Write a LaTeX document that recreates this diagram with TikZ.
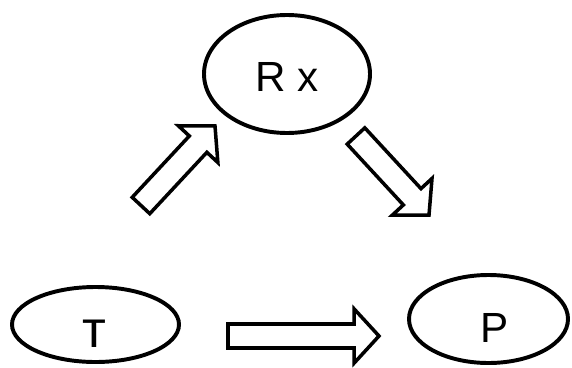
\documentclass[tikz,border=0pt]{standalone}
\usepackage{fontspec}
\setmainfont{Liberation Sans}
\usetikzlibrary{shapes.geometric, calc}

\newcommand{\blockarrow}[2]{%
	\coordinate (neck) at ($(#2)!0.62cm!(#1)$);
	\draw [block] ($(#1)!0.3cm!90:(#2)$) -- ($(neck)!0.3cm!90:(#2)$) -- ($(neck)!0.675cm!90:(#2)$) -- (#2) -- ($(neck)!0.675cm!-90:(#2)$) -- ($(neck)!0.3cm!-90:(#2)$) -- ($(#1)!0.3cm!-90:(#2)$) -- cycle;
}

\begin{document}
\begin{tikzpicture}[
		oval/.style={draw, ellipse, line width=2.8pt, inner sep=0pt, outer sep=0pt},
		lbl/.style={anchor=base, inner sep=0pt, font=\fontsize{30}{36}\selectfont},
		block/.style={line width=2.5pt, line join=miter},
	]
		\useasboundingbox (0, 0) rectangle (14.3, 9.175);

		\node [oval, minimum width=4.15cm, minimum height=2.95cm] (rx) at (7.175, 7.325) {};
		\node [oval, minimum width=4.175cm, minimum height=1.875cm] (t) at (2.3875, 1.0625) {};
		\node [oval, minimum width=3.975cm, minimum height=2.2cm] (p) at (12.2125, 1.2) {};

		\node [lbl] (rxtext) at (7.175, 6.875) {R x};
		\node [lbl, font=\fontsize{37}{44}\selectfont] (ttext) at (2.35, 0.5) {т};
		\node [lbl] (ptext) at (12.375, 0.625) {P};

		\coordinate (up1) at (3.525, 4.0375);
		\coordinate (up2) at (5.375, 6.025);
		\coordinate (down1) at (8.9, 5.775);
		\coordinate (down2) at (10.725, 3.8);
		\coordinate (across1) at (5.7, 0.775);
		\coordinate (across2) at (9.475, 0.775);

		\blockarrow{up1}{up2}
		\blockarrow{down1}{down2}
		\blockarrow{across1}{across2}
	\end{tikzpicture}
\end{document}
